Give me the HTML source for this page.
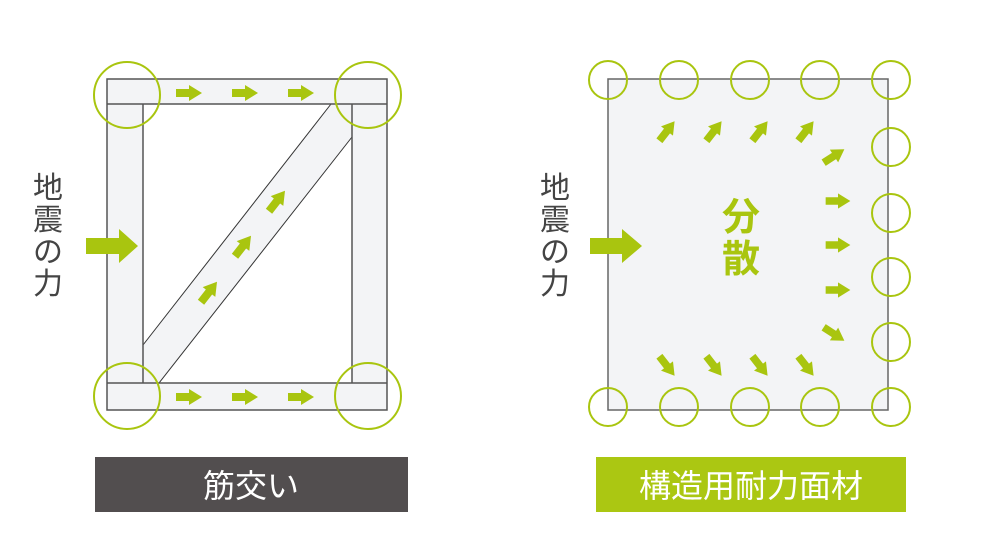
<!DOCTYPE html>
<html><head><meta charset="utf-8"><style>
html,body{margin:0;padding:0;background:#fff;}
svg{display:block}
text{font-family:"Liberation Sans","Noto Sans CJK JP",sans-serif;}
</style></head><body>
<svg width="1000" height="560" viewBox="0 0 1000 560" xmlns="http://www.w3.org/2000/svg">
<defs>
<path id="a" d="M-13,-4H0V-8L13,0L0,8V4H-13Z" fill="#a9c50f"/>
</defs>
<!-- LEFT frame -->
<rect x="107" y="79" width="280" height="331" fill="#f3f4f6" stroke="#555" stroke-width="1.5"/>
<rect x="143" y="104" width="209" height="279" fill="#fff"/>
<polygon points="143,345 331,104 352,104 352,137 159,383 143,383" fill="#f3f4f6"/>
<line x1="143" y1="345" x2="331" y2="104" stroke="#333" stroke-width="1"/>
<line x1="159" y1="383" x2="352" y2="137" stroke="#333" stroke-width="1"/>
<g stroke="#555" stroke-width="1.5">
<line x1="352" y1="104" x2="352" y2="383"/>
<line x1="143" y1="104" x2="143" y2="383"/>
<line x1="107" y1="104" x2="387" y2="104"/>
<line x1="107" y1="383" x2="387" y2="383"/>
</g>
<g fill="none" stroke="#a9c50f" stroke-width="2">
<circle cx="127" cy="95" r="33"/><circle cx="368" cy="95" r="33"/>
<circle cx="127" cy="396" r="33"/><circle cx="368" cy="396" r="33"/>
</g>
<use href="#a" x="189" y="93"/><use href="#a" x="245" y="93"/><use href="#a" x="301" y="93"/>
<use href="#a" x="189" y="397"/><use href="#a" x="245" y="397"/><use href="#a" x="301" y="397"/>
<use href="#a" transform="translate(209,292) rotate(-52)"/>
<use href="#a" transform="translate(243,246) rotate(-52)"/>
<use href="#a" transform="translate(277,201) rotate(-52)"/>
<path d="M86,238H119V229L138,246L119,263V254H86Z" fill="#a9c50f"/>
<g font-size="30" fill="#444"><text x="33" y="198">地</text><text x="33" y="230">震</text><text x="33" y="262">の</text><text x="33" y="294">力</text></g>
<!-- RIGHT -->
<rect x="608" y="79" width="280" height="331" fill="#f3f4f6" stroke="#666" stroke-width="1.5"/>
<g fill="none" stroke="#a9c50f" stroke-width="2">
<circle cx="608" cy="80" r="19"/><circle cx="679" cy="80" r="19"/><circle cx="750" cy="80" r="19"/><circle cx="820" cy="80" r="19"/><circle cx="891" cy="80" r="19"/>
<circle cx="891" cy="147" r="19"/><circle cx="891" cy="213" r="19"/><circle cx="891" cy="277" r="19"/><circle cx="891" cy="342" r="19"/>
<circle cx="608" cy="407" r="19"/><circle cx="679" cy="407" r="19"/><circle cx="750" cy="407" r="19"/><circle cx="820" cy="407" r="19"/><circle cx="891" cy="407" r="19"/>
</g>
<use href="#a" transform="translate(667,131) rotate(-52) scale(0.95)"/>
<use href="#a" transform="translate(714,131) rotate(-52) scale(0.95)"/>
<use href="#a" transform="translate(760,131) rotate(-52) scale(0.95)"/>
<use href="#a" transform="translate(806,131) rotate(-52) scale(0.95)"/>
<use href="#a" transform="translate(834,156) rotate(-33) scale(0.95)"/>
<use href="#a" transform="translate(838,201) scale(0.95)"/>
<use href="#a" transform="translate(838,245) scale(0.95)"/>
<use href="#a" transform="translate(838,290) scale(0.95)"/>
<use href="#a" transform="translate(834,334) rotate(33) scale(0.95)"/>
<use href="#a" transform="translate(667,366) rotate(52) scale(0.95)"/>
<use href="#a" transform="translate(714,366) rotate(52) scale(0.95)"/>
<use href="#a" transform="translate(760,366) rotate(52) scale(0.95)"/>
<use href="#a" transform="translate(806,366) rotate(52) scale(0.95)"/>
<path d="M590,238H622V229L642,246L622,263V254H590Z" fill="#a9c50f"/>
<g font-size="38" font-weight="bold" fill="#a9c50f" text-anchor="middle"><text x="741" y="230">分</text><text x="741" y="272">散</text></g>
<g font-size="30" fill="#444"><text x="540" y="198">地</text><text x="540" y="230">震</text><text x="540" y="262">の</text><text x="540" y="294">力</text></g>
<!-- bars -->
<rect x="95" y="457" width="313" height="55" fill="#524e4f"/>
<text x="251" y="497" font-size="32" fill="#fff" text-anchor="middle">筋交い</text>
<rect x="596" y="457" width="310" height="55" fill="#abc712"/>
<text x="751" y="497" font-size="32" fill="#fff" text-anchor="middle">構造用耐力面材</text>
</svg>
</body></html>
